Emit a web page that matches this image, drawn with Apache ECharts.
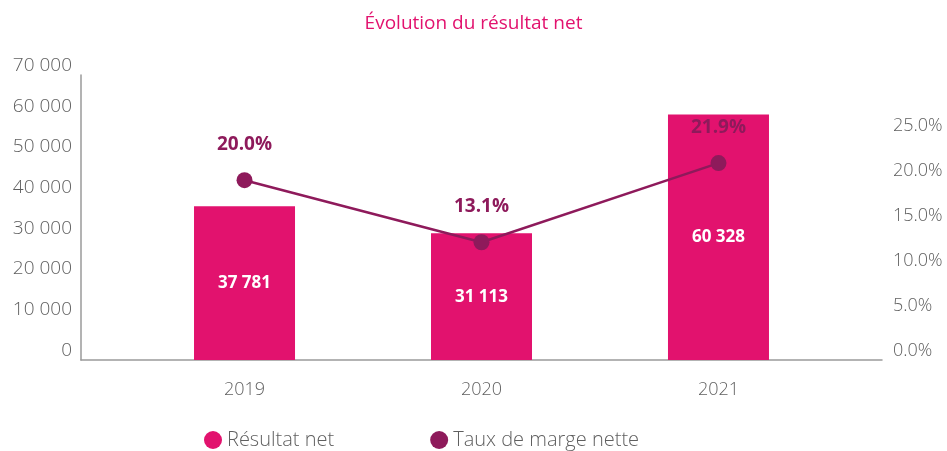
<!DOCTYPE html>
<html>
<head>
<meta charset="utf-8">
<script src="https://cdn.jsdelivr.net/npm/echarts@6/dist/echarts.min.js"></script>
<style>
  html, body { margin: 0; padding: 0; background: #ffffff; }
  #chart { width: 947px; height: 451px; }
</style>
</head>
<body>
<div id="chart"></div>
<script>
// Net result (bars, left axis) and net margin rate (line, right axis)
const years = ['2019', '2020', '2021'];
const resultatNet = [37781, 31113, 60328];
const tauxMarge = [20.0, 13.1, 21.9];
const leftTicks = [0, 10000, 20000, 30000, 40000, 50000, 60000, 70000];
const rightTicks = [0, 5, 10, 15, 20, 25];

const FONT = 'Open Sans';
const PINK = '#E2126E';
const PLUM = '#8E1A5B';
const GREY = '#5f5f5f';

const fmtThousands = v => String(Math.round(v)).replace(/\B(?=(\d{3})+(?!\d))/g, ' ');

const chart = echarts.init(document.getElementById('chart'), null, { renderer: 'canvas' });

chart.setOption({
  animation: false,
  backgroundColor: '#ffffff',
  textStyle: { fontFamily: FONT },
  title: {
    text: 'Évolution du résultat net',
    left: 'center',
    top: 9,
    textStyle: { color: PINK, fontFamily: FONT, fontSize: 19, fontWeight: 'normal' }
  },
  legend: {
    left: 199,
    top: 425,
    icon: 'circle',
    itemWidth: 18,
    itemHeight: 18,
    itemGap: 96,
    textStyle: { color: GREY, fontFamily: FONT, fontSize: 20, fontWeight: 300 },
    data: ['Résultat net', 'Taux de marge nette']
  },
  grid: { left: 81, right: 65, top: 75, bottom: 91 },
  xAxis: {
    type: 'value',
    min: -0.69,
    max: 2.69,
    axisLine: { show: true, onZero: false, lineStyle: { color: '#9a9a9a', width: 1.5 } },
    axisTick: { show: false },
    splitLine: { show: false },
    axisLabel: {
      customValues: years.map((_, i) => i),
      formatter: v => years[Math.round(v)],
      color: GREY,
      fontFamily: FONT,
      fontSize: 18,
      fontWeight: 300,
      margin: 21
    }
  },
  yAxis: [
    {
      type: 'value',
      min: 0,
      max: 70000,
      interval: 10000,
      axisLine: { show: true, onZero: false, lineStyle: { color: '#9a9a9a', width: 1.5 } },
      axisTick: { show: false },
      splitLine: { show: false },
      axisLabel: {
        customValues: leftTicks,
        formatter: v => fmtThousands(v),
        color: GREY,
        fontFamily: FONT,
        fontSize: 19,
        fontWeight: 300,
        margin: 9,
        verticalAlign: 'bottom'
      }
    },
    {
      type: 'value',
      min: 0,
      max: 31.7,
      position: 'right',
      axisLine: { show: false, onZero: false },
      axisTick: { show: false },
      splitLine: { show: false },
      axisLabel: {
        customValues: rightTicks,
        formatter: v => v.toFixed(1) + '%',
        color: GREY,
        fontFamily: FONT,
        fontSize: 18,
        fontWeight: 300,
        margin: 11,
        verticalAlign: 'bottom',
        align: 'left'
      }
    }
  ],
  series: [
    {
      name: 'Résultat net',
      type: 'bar',
      yAxisIndex: 0,
      barWidth: 101,
      itemStyle: { color: PINK },
      data: resultatNet.map((v, i) => [i, v]),
      label: {
        show: true,
        position: 'inside',
        formatter: p => fmtThousands(p.value[1]),
        color: '#ffffff',
        fontFamily: FONT,
        fontSize: 17,
        fontWeight: 'bold'
      }
    },
    {
      name: 'Taux de marge nette',
      type: 'line',
      yAxisIndex: 1,
      symbol: 'circle',
      symbolSize: 16,
      itemStyle: { color: PLUM },
      lineStyle: { color: PLUM, width: 2.5 },
      data: tauxMarge.map((v, i) => [i, v]),
      label: {
        show: true,
        position: 'top',
        distance: 18,
        formatter: p => p.value[1].toFixed(1) + '%',
        color: PLUM,
        fontFamily: FONT,
        fontSize: 19,
        fontWeight: 'bold'
      },
      z: 3
    }
  ]
});
</script>
</body>
</html>
